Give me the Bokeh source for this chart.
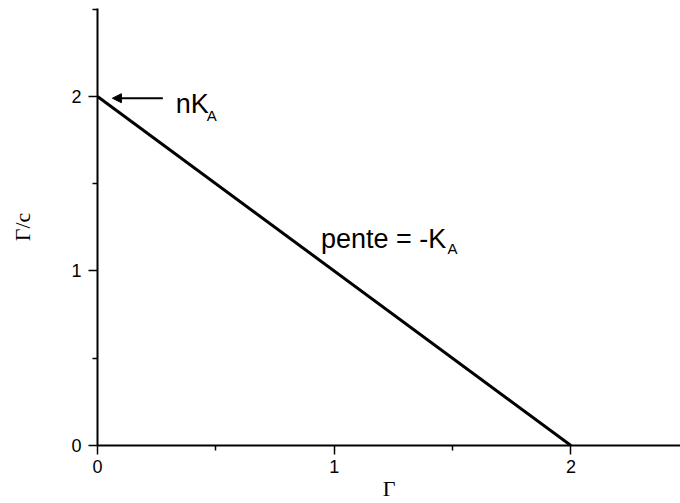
from bokeh.plotting import figure
from bokeh.models import (ColumnDataSource, FixedTicker, Range1d, Arrow, NormalHead)
from bokeh.core.properties import value
from bokeh.embed import file_html
from bokeh.resources import INLINE

# --- data ---
gamma = [0.0, 2.0]
gamma_over_c = [2.0, 0.0]
x_major = [0, 1, 2]
x_minor = [0.5, 1.5, 2.5]
y_major = [0, 1, 2]
y_minor = [0.5, 1.5, 2.5]
x_label = "Γ"
y_label = "Γ/c"

# annotation texts (main and subscript parts) in data coords
main_texts = ["nK", "pente = -K"]
main_x = [0.331, 0.944]
main_y = [1.954, 1.186]
sub_texts = ["A", "A"]
sub_x = [0.462, 1.479]
sub_y = [1.891, 1.129]
arrow_from = (0.276, 1.99)
arrow_to = (0.063, 1.99)

p = figure(width=680, height=503, output_backend="svg", toolbar_location=None,
           x_range=Range1d(0, 2.463), y_range=Range1d(0, 2.504),
           min_border_left=97, min_border_right=0, min_border_top=8,
           min_border_bottom=58)
p.outline_line_color = None
p.xgrid.visible = False
p.ygrid.visible = False
p.background_fill_color = "white"

p.line(gamma, gamma_over_c, line_width=3, line_color="black")

for ax, maj, mnr in ((p.xaxis[0], x_major, x_minor), (p.yaxis[0], y_major, y_minor)):
    ax.ticker = FixedTicker(ticks=maj, minor_ticks=mnr)
    ax.axis_line_width = 2
    ax.axis_line_color = "black"
    ax.major_tick_line_width = 1.5
    ax.minor_tick_line_width = 1.5
    ax.major_tick_line_color = "black"
    ax.minor_tick_line_color = "black"
    ax.major_tick_in = 0
    ax.major_tick_out = 9
    ax.minor_tick_in = 0
    ax.minor_tick_out = 5
    ax.major_label_text_font = "Liberation Sans"
    ax.major_label_text_font_size = "18px"
    ax.major_label_text_color = "black"
    ax.axis_label_text_font = "Liberation Serif"
    ax.axis_label_text_font_style = "normal"
    ax.axis_label_text_font_size = "22px"
    ax.axis_label_text_color = "black"

p.xaxis.axis_label = x_label
p.yaxis.axis_label = y_label
p.xaxis.major_label_standoff = 5
p.yaxis.major_label_standoff = 7
p.xaxis.axis_label_standoff = 0
p.yaxis.axis_label_standoff = 33

src_main = ColumnDataSource(dict(x=main_x, y=main_y, t=main_texts))
src_sub = ColumnDataSource(dict(x=sub_x, y=sub_y, t=sub_texts))
p.text(x="x", y="y", text="t", source=src_main, text_font=value("Liberation Sans"),
       text_font_size="27px", text_color="black", text_baseline="alphabetic",
       text_align="left")
p.text(x="x", y="y", text="t", source=src_sub, text_font=value("Liberation Sans"),
       text_font_size="15px", text_color="black", text_baseline="alphabetic",
       text_align="left")

p.add_layout(Arrow(end=NormalHead(size=9, fill_color="black", line_color="black", line_width=1),
                   x_start=arrow_from[0], y_start=arrow_from[1],
                   x_end=arrow_to[0], y_end=arrow_to[1],
                   line_width=2, line_color="black"))

open("out.html", "w").write(file_html(p, INLINE))
